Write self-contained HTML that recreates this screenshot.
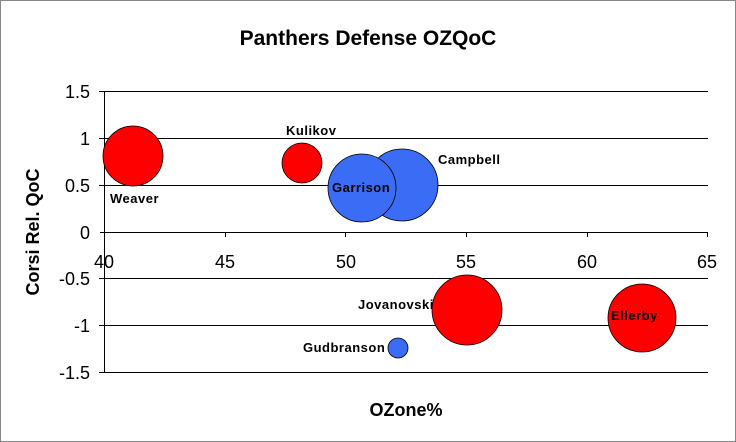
<!DOCTYPE html>
<html><head><style>
body{margin:0;background:#fff;}
svg{display:block;font-family:"Liberation Sans",Arial,sans-serif;}
</style></head><body>
<svg width="736" height="442" viewBox="0 0 736 442">
<rect x="0.5" y="0.5" width="735" height="441" fill="#fff" stroke="#888"/>
<text x="368" y="45" font-size="21" font-weight="bold" text-anchor="middle">Panthers Defense OZQoC</text>
<g stroke="#000" stroke-width="1">
<line x1="104" y1="91.5" x2="708" y2="91.5"/>
<line x1="104" y1="138.5" x2="708" y2="138.5"/>
<line x1="104" y1="185.5" x2="708" y2="185.5"/>
<line x1="104" y1="278.5" x2="708" y2="278.5"/>
<line x1="104" y1="325.5" x2="708" y2="325.5"/>
<line x1="104" y1="372.5" x2="708" y2="372.5"/>
<line x1="104.5" y1="91" x2="104.5" y2="372"/>
<line x1="100" y1="232.5" x2="708" y2="232.5"/>
<line x1="99" y1="91.5" x2="104" y2="91.5"/><line x1="99" y1="138.5" x2="104" y2="138.5"/><line x1="99" y1="185.5" x2="104" y2="185.5"/>
<line x1="99" y1="278.5" x2="104" y2="278.5"/><line x1="99" y1="325.5" x2="104" y2="325.5"/><line x1="99" y1="372.5" x2="104" y2="372.5"/>
<line x1="225.5" y1="232" x2="225.5" y2="237"/><line x1="345.5" y1="232" x2="345.5" y2="237"/><line x1="466.5" y1="232" x2="466.5" y2="237"/><line x1="587.5" y1="232" x2="587.5" y2="237"/><line x1="707.5" y1="232" x2="707.5" y2="237"/>
</g>
<g font-size="18" text-anchor="end">
<text x="90" y="98">1.5</text><text x="90" y="145">1</text><text x="90" y="192">0.5</text><text x="90" y="239">0</text>
<text x="90" y="285">-0.5</text><text x="90" y="332">-1</text><text x="90" y="379">-1.5</text>
</g>
<g font-size="18" text-anchor="middle">
<text x="104" y="268">40</text><text x="225" y="268">45</text><text x="346" y="268">50</text><text x="466" y="268">55</text><text x="587" y="268">60</text><text x="707" y="268">65</text>
</g>
<text x="406" y="416" font-size="18" font-weight="bold" text-anchor="middle">OZone%</text>
<text transform="translate(39,232) rotate(-90)" font-size="18" font-weight="bold" text-anchor="middle">Corsi Rel. QoC</text>
<g stroke="#000" stroke-width="0.8">
<circle cx="133" cy="156" r="30" fill="#ff0000"/>
<circle cx="302" cy="163" r="20" fill="#ff0000"/>
<circle cx="402" cy="185" r="36" fill="#3b6cf5"/>
<circle cx="362" cy="188" r="34" fill="#3b6cf5"/>
<circle cx="467" cy="310" r="35" fill="#ff0000"/>
<circle cx="642" cy="318" r="34" fill="#ff0000"/>
<circle cx="398" cy="348" r="10" fill="#3b6cf5"/>
</g>
<g font-size="13" font-weight="bold" letter-spacing="0.5">
<text x="110" y="203">Weaver</text>
<text x="286" y="135">Kulikov</text>
<text x="438" y="164">Campbell</text>
<text x="332" y="192">Garrison</text>
<text x="358" y="309">Jovanovski</text>
<text x="611" y="320">Ellerby</text>
<text x="303" y="352">Gudbranson</text>
</g>
</svg>
</body></html>
